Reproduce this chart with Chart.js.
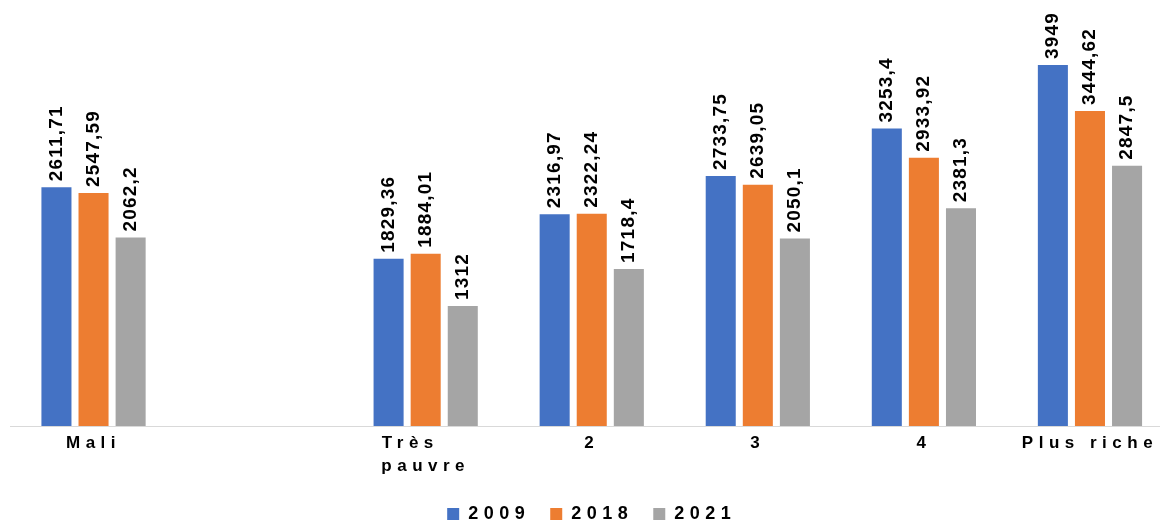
<!DOCTYPE html>
<html>
<head>
<meta charset="utf-8">
<script src="https://cdn.jsdelivr.net/npm/chart.js@4"></script>
<style>
  html, body { margin: 0; padding: 0; background: #fff; }
  .Chart { width: 1160px; height: 521px; overflow: hidden; position: relative; }
  #myChart { position: absolute; left: 0; top: 0; }
</style>
</head>
<body>
<div class="Chart">
  <canvas id="myChart" width="1180" height="533"></canvas>
</div>
<script>
const categories = ["Mali", "", ["Très   ", "pauvre"], "2", "3", "4", "Plus riche"];
const years = ["2009", "2018", "2021"];
const values2009 = [2611.71, null, 1829.36, 2316.97, 2733.75, 3253.4, 3949];
const values2018 = [2547.59, null, 1884.01, 2322.24, 2639.05, 2933.92, 3444.62];
const values2021 = [2062.2, null, 1312, 1718.4, 2050.1, 2381.3, 2847.5];
const colors = ["#4472C4", "#ED7D31", "#A5A5A5"];
const fontFamily = "'Liberation Sans', Arial, sans-serif";

// spaced-out text like the original office export
const spacing = {
  id: "spacing",
  beforeLayout(chart) { chart.ctx.letterSpacing = "5.5px"; },
  beforeDraw(chart) { chart.ctx.letterSpacing = "5.5px"; },
};

// rotated value labels on top of the bars
const barLabels = {
  id: "barLabels",
  afterDatasetsDraw(chart) {
    const ctx = chart.ctx;
    chart.data.datasets.forEach((ds, i) => {
      const meta = chart.getDatasetMeta(i);
      meta.data.forEach((bar, j) => {
        const v = ds.data[j];
        if (v === null) return;
        ctx.save();
        ctx.letterSpacing = "1.2px";
        ctx.font = "bold 19px " + fontFamily;
        ctx.fillStyle = "#000";
        ctx.translate(bar.x, bar.y - 6);
        ctx.rotate(-Math.PI / 2);
        ctx.textAlign = "left";
        ctx.textBaseline = "middle";
        ctx.fillText(String(v).replace(".", ","), 0, 0);
        ctx.restore();
      });
    });
  }
};

const data = {
  labels: categories,
  datasets: [values2009, values2018, values2021].map((vals, i) => ({
    label: years[i],
    data: vals,
    backgroundColor: colors[i],
    borderWidth: 0,
    categoryPercentage: 0.67,
    barPercentage: 0.81,
  })),
};

new Chart(document.getElementById("myChart"), {
  type: "bar",
  data: data,
  plugins: [spacing, barLabels],
  options: {
    responsive: false,
    animation: false,
    layout: { padding: { left: 10.5, right: 7, top: 0, bottom: 0 } },
    scales: {
      x: {
        grid: { display: false, drawTicks: false },
        border: { display: true, color: "#D9D9D9", width: 1 },
        ticks: {
          color: "#000",
          padding: 6,
          maxRotation: 0,
          autoSkip: false,
          font: { family: fontFamily, size: 17, weight: "bold", lineHeight: 1.35 },
        },
        afterFit(scale) { scale.height = 59; },
      },
      y: {
        display: false,
        min: 0,
        max: 4660,
      },
    },
    plugins: {
      legend: {
        position: "bottom",
        labels: {
          boxWidth: 12,
          boxHeight: 12,
          padding: 20,
          color: "#000",
          font: { family: fontFamily, size: 18, weight: "bold" },
        },
      },
      tooltip: { enabled: false },
    },
  },
});
</script>
</body>
</html>
